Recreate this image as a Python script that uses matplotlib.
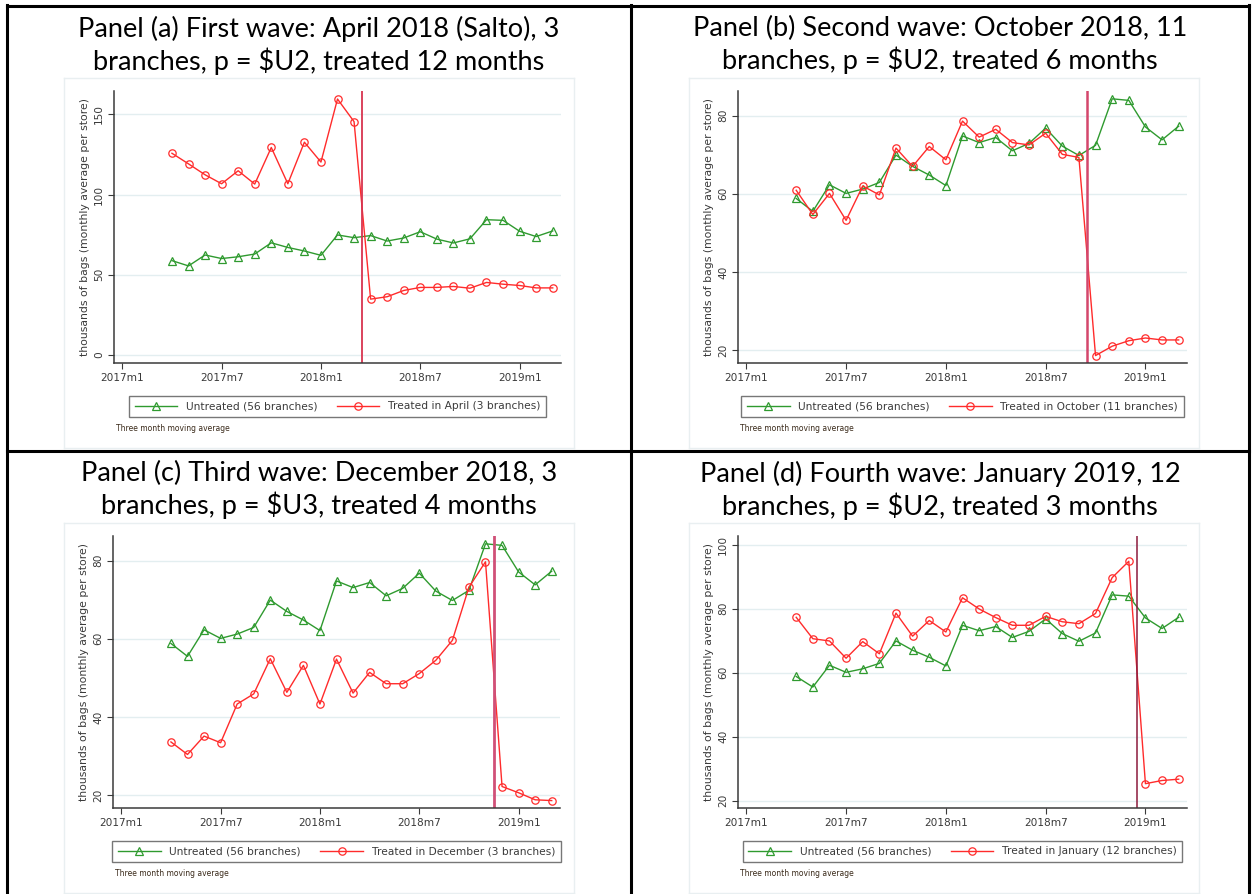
import matplotlib
matplotlib.use("Agg")
import matplotlib.pyplot as plt
from matplotlib.lines import Line2D
import numpy as np

# months since 2017m1 (2017m4 .. 2019m3)
months = [3, 4, 5, 6, 7, 8, 9, 10, 11, 12, 13, 14, 15, 16, 17, 18, 19, 20, 21, 22, 23, 24, 25, 26]
tick_pos = [0, 6, 12, 18, 24]
tick_labels = ["2017m1", "2017m7", "2018m1", "2018m7", "2019m1"]

# untreated control group (same in every panel)
untreated = [58.8, 55.5, 62.3, 60.1, 61.2, 62.9, 69.9, 67.0, 64.8, 62.1, 74.8, 73.1,
             74.4, 71.0, 72.9, 76.8, 72.2, 69.8, 72.4, 84.3, 83.9, 77.1, 73.8, 77.3]

treated_a = [125.7, 119.1, 112.3, 106.7, 114.8, 106.5, 129.3, 106.7, 132.6, 120.2, 159.5, 145.4,
             34.8, 36.3, 40.2, 42.1, 42.1, 42.7, 41.6, 45.2, 44.1, 43.3, 41.8, 41.8]
treated_b = [60.9, 54.7, 60.1, 53.2, 62.0, 59.7, 71.7, 67.0, 72.1, 68.7, 78.6, 74.5,
             76.5, 73.1, 72.5, 75.5, 70.1, 69.3, 18.6, 21.0, 22.4, 23.1, 22.6, 22.6]
treated_c = [33.6, 30.4, 35.1, 33.4, 43.3, 45.9, 54.9, 46.3, 53.2, 43.3, 54.8, 46.1,
             51.4, 48.5, 48.5, 51.1, 54.5, 59.6, 73.2, 79.7, 22.2, 20.6, 18.8, 18.6]
treated_d = [77.3, 70.6, 69.9, 64.5, 69.7, 65.9, 78.6, 71.4, 76.3, 72.7, 83.4, 79.9,
             77.2, 74.8, 74.8, 77.6, 75.9, 75.3, 78.5, 89.7, 94.8, 25.3, 26.3, 26.7]

# treatment start (line drawn half a month before)
treat_month = [15, 21, 23, 24]

titles = [
    "Panel (a) First wave: April 2018 (Salto), 3\nbranches, p = \\$U2, treated 12 months",
    "Panel (b) Second wave: October 2018, 11\nbranches, p = \\$U2, treated 6 months",
    "Panel (c) Third wave: December 2018, 3\nbranches, p = \\$U3, treated 4 months",
    "Panel (d) Fourth wave: January 2019, 12\nbranches, p = \\$U2, treated 3 months",
]
treated_labels = [
    "Treated in April (3 branches)",
    "Treated in October (11 branches)",
    "Treated in December (3 branches)",
    "Treated in January (12 branches)",
]
y_ticks = [[0, 50, 100, 150], [20, 40, 60, 80], [20, 40, 60, 80], [20, 40, 60, 80, 100]]
y_lims = [(-5, 164.5), (16.7, 86.3), (16.7, 86.3), (17.7, 102.7)]
vline_colors = ["#d8344f", "#d4466c", "#d05078", "#8c1a3c"]
vline_widths = [1.3, 1.8, 2.0, 1.1]

W, H = 1252, 894
GREEN = "#2f9a2f"
RED = "#ff2b2b"
GRAY = "#3a3a3a"


def px_box(left, right, top, bottom):
    return [left / W, 1 - bottom / H, (right - left) / W, (bottom - top) / H]


# pixel boxes of the four plot areas
boxes = [(114, 561, 91, 363), (738, 1187, 91, 363), (113, 560, 536, 808), (738, 1187, 536, 808)]
cells_x = [319, 940, 319, 940]
title_y = [45, 45, 490, 490]
frames = [(64, 574, 78, 448), (689, 1199, 78, 448), (64, 574, 523, 893), (689, 1199, 523, 893)]

fig = plt.figure(figsize=(W / 100, H / 100), dpi=100)
fig.patch.set_facecolor("white")

treated_all = [treated_a, treated_b, treated_c, treated_d]

for i in range(4):
    # faint stata graph region border
    fl, fr, ft, fb = frames[i]
    for xs, ys in [((fl, fr), (ft, ft)), ((fl, fr), (fb, fb)), ((fl, fl), (ft, fb)), ((fr, fr), (ft, fb))]:
        fig.add_artist(Line2D([x / W for x in xs], [1 - y / H for y in ys],
                              color="#e9eff1", lw=1))

    ax = fig.add_axes(px_box(*boxes[i]))
    ax.plot(months, untreated, color=GREEN, lw=1, marker="^", ms=6,
            mfc="none", mec=GREEN, mew=0.9, label="Untreated (56 branches)")
    ax.plot(months, treated_all[i], color=RED, lw=1, marker="o", ms=5.3,
            mfc="none", mec=RED, mew=0.9, label=treated_labels[i])
    ax.axvline(treat_month[i] - 0.5, color=vline_colors[i], lw=vline_widths[i])

    ax.set_xlim(-0.5, 26.5)
    ax.set_ylim(*y_lims[i])
    ax.set_xticks(tick_pos)
    ax.set_xticklabels(tick_labels)
    ax.set_yticks(y_ticks[i])
    ax.set_yticklabels([str(v) for v in y_ticks[i]], rotation=90, va="center")
    ax.grid(axis="y", color="#e3eef0", lw=1)
    ax.set_axisbelow(True)
    for s in ["top", "right"]:
        ax.spines[s].set_visible(False)
    for s in ["left", "bottom"]:
        ax.spines[s].set_color(GRAY)
        ax.spines[s].set_linewidth(1.1)
    ax.tick_params(direction="out", length=4, width=0.8, color=GRAY,
                   labelsize=7.6, labelcolor=GRAY, pad=3)
    ax.set_ylabel("thousands of bags (monthly average per store)", fontsize=7.8,
                  color=GRAY, labelpad=3)

    leg = ax.legend(loc="upper center", bbox_to_anchor=(0.5, -0.1), ncol=2,
                    fontsize=7.7, frameon=True, fancybox=False, handlelength=4.0,
                    columnspacing=1.8, borderpad=0.55, handletextpad=0.8)
    leg.get_frame().set_edgecolor("#555555")
    leg.get_frame().set_linewidth(1)
    for t in leg.get_texts():
        t.set_color(GRAY)

    ax.text(0.005, -0.24, "Three month moving average", transform=ax.transAxes,
            fontsize=5.5, color="#3a2a1a", va="center", ha="left")

    fig.text(cells_x[i] / W, 1 - title_y[i] / H, titles[i], ha="center", va="center",
             fontsize=19.5, family="Lato", linespacing=1.24, color="black")

# table grid
grid_lines = [((7, 7), (5, 894)), ((631, 631), (5, 894)), ((1249, 1249), (5, 894)),
              ((7, 1249), (6, 6)), ((7, 1249), (451, 451))]
for xs, ys in grid_lines:
    fig.add_artist(Line2D([x / W for x in xs], [1 - y / H for y in ys],
                          color="black", lw=2.2, solid_capstyle="projecting"))

fig.savefig("out.png", dpi=100)
